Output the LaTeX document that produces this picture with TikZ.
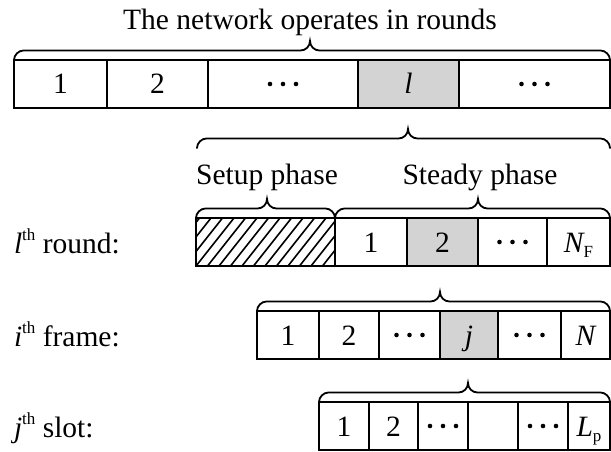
\documentclass[tikz,border=0pt]{standalone}
\usepackage{fontspec}
\setmainfont{Liberation Serif}
\definecolor{cellgray}{RGB}{211,211,211}
\newcommand\sth{\raisebox{13pt}{\fontsize{17}{17}\selectfont th}}
\newcommand\mysub[1]{\raisebox{-5pt}{\fontsize{17}{17}\selectfont #1}}
\newcommand\cellat[6][cell]{\node[#1, minimum width={#4-#3}] (#2) at ({(#3+#4)/2},{#5+24}) {#6};}
\newcommand\dotsin[1]{\foreach \dx in {-13,0,13} \fill ([xshift=\dx pt]#1.center) circle (2.3pt);}
\newcommand\mybrace[4]{\draw[bracep] (#1,#4) .. controls (#1,#4-5) and (#1+4.5,#4-9.5) .. (#1+9.5,#4-9.5) -- (#3-9.5,#4-9.5) .. controls (#3-4,#4-9.5) and (#3,#4-14) .. (#3,#4-19) .. controls (#3,#4-14) and (#3+4,#4-9.5) .. (#3+9.5,#4-9.5) -- (#2-9.5,#4-9.5) .. controls (#2-4.5,#4-9.5) and (#2,#4-5) .. (#2,#4);}
\begin{document}
\begin{tikzpicture}[x=1pt,y=-1pt,
  every node/.style={font=\fontsize{29.5}{32}\selectfont, inner sep=0pt, outer sep=0pt},
  cell/.style={draw, line width=1.8pt, minimum height=48pt, text height=20pt, text depth=0pt},
  grey/.style={cell, fill=cellgray},
  hatch/.style={cell, path picture={\foreach \k in {-5,...,13} \draw[line width=1.6pt] ([xshift=\k*11.5pt]path picture bounding box.south west) -- ++(38pt,48pt);}},
  bracep/.style={line width=1.8pt, line cap=round},
  lbl/.style={anchor=base west},
  ttl/.style={anchor=base}]
\useasboundingbox (0,0) rectangle (611,452);

% title
\node[ttl] (title) at (310,30) {The network operates in rounds};
\mybrace{14}{610}{310}{60}

% row of rounds
\cellat{a1}{14}{107}{60}{1}
\cellat{a2}{107}{208}{60}{2}
\cellat{a3}{208}{358}{60}{}
\cellat[grey]{a4}{358}{459}{60}{\itshape l}
\cellat{a5}{459}{610}{60}{}
\dotsin{a3}
\dotsin{a5}

% brace for round l
\mybrace{197}{610}{408}{148}
\node[ttl] (setuptxt) at (267,184) {Setup phase};
\node[ttl] (steadytxt) at (480,184) {Steady phase};
\mybrace{196}{335}{267}{218}
\mybrace{335}{610}{478}{218}

% l-th round
\node[lbl] (lround) at (14,253) {{\itshape l}\sth\ round:};
\cellat[hatch]{setup}{196}{335}{218}{}
\cellat{b1}{335}{407}{218}{1}
\cellat[grey]{b2}{407}{478}{218}{2}
\cellat{b3}{478}{547}{218}{}
\cellat{b4}{547}{610}{218}{{\itshape N}\mysub{F}}
\dotsin{b3}

% i-th frame
\mybrace{257}{610}{440}{311}
\node[lbl] (iframe) at (14,346) {{\itshape i}\sth\ frame:};
\cellat{c1}{257}{319}{311}{1}
\cellat{c2}{319}{379}{311}{2}
\cellat{c3}{379}{440}{311}{}
\cellat[grey]{c4}{440}{498}{311}{\itshape j}
\cellat{c5}{498}{561}{311}{}
\cellat{c6}{561}{610}{311}{\itshape N}
\dotsin{c3}
\dotsin{c5}

% j-th slot
\mybrace{319}{610}{468}{402}
\node[lbl] (jslot) at (14,437) {{\itshape j}\sth\ slot:};
\cellat{d1}{319}{369}{402}{1}
\cellat{d2}{369}{418}{402}{2}
\cellat{d3}{418}{468}{402}{}
\cellat{d4}{468}{518}{402}{}
\cellat{d5}{518}{568}{402}{}
\cellat{d6}{568}{610}{402}{{\itshape L}\mysub{p}}
\dotsin{d3}
\dotsin{d5}
\end{tikzpicture}
\end{document}
